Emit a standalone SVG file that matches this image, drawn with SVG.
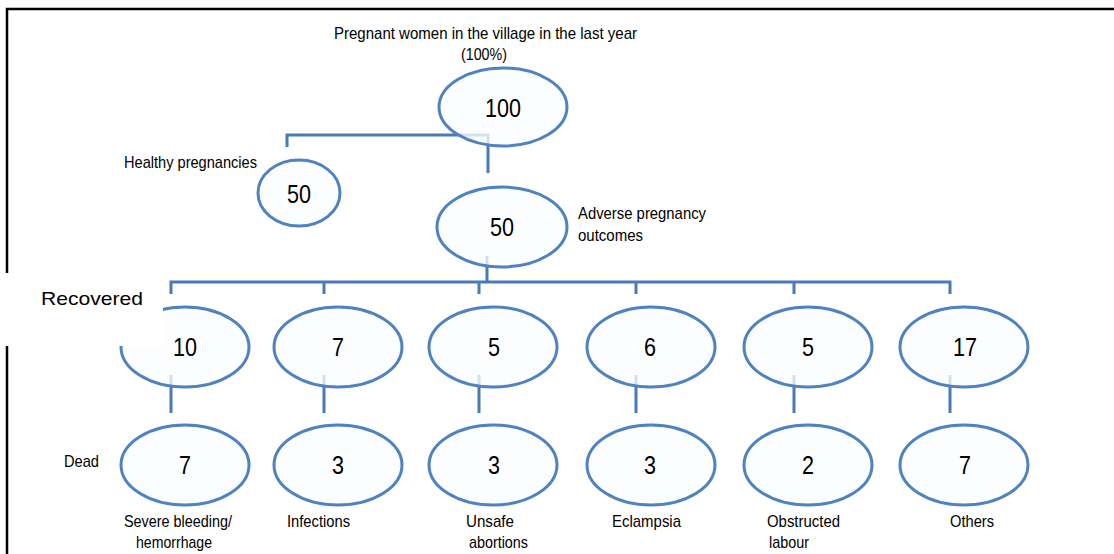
<svg xmlns="http://www.w3.org/2000/svg" width="1114" height="554" viewBox="0 0 1114 554">
<style>
.frame{stroke:#000;stroke-width:2.5;fill:none}
.conn{stroke:#4a7bb7;stroke-width:3;fill:none}
.node ellipse{fill:#fbfcfe;fill-opacity:0.78;stroke:#4f82c0;stroke-width:3}
.num{font-family:"Liberation Sans Narrow","Liberation Sans",Arial,sans-serif;font-size:26px;fill:#000;text-anchor:middle}
.lbl{font-family:"Liberation Sans Narrow","Liberation Sans",Arial,sans-serif;font-size:17px;fill:#000}
.rec{font-family:"Liberation Sans",Arial,sans-serif;font-size:19px;fill:#000}
</style>
<rect x="0" y="0" width="1114" height="554" fill="#fff"/>
<path class="frame" d="M7,554 V9 H1114"/>
<g id="connectors">
<path class="conn" d="M287,147 V135 H488 V173"/>
<path class="conn" d="M487,256 V282"/>
<path class="conn" d="M171,294 V282 H950 V294"/>
<path class="conn" d="M324,282 V294 M479,282 V294 M636,282 V294 M794,282 V294"/>
<path class="conn" d="M171,375 V413 M324,375 V413 M479,375 V413 M636,375 V413 M794,375 V413 M950,375 V413"/>
</g>
<g id="title">
<text class="lbl" x="334" y="39" textLength="303" lengthAdjust="spacingAndGlyphs">Pregnant women in the village in the last year</text>
<text class="lbl" x="461" y="60" textLength="46" lengthAdjust="spacingAndGlyphs">(100%)</text>
</g>
<g id="n100" class="node"><ellipse cx="503" cy="107" rx="64" ry="39"/><text class="num" x="503" y="117" textLength="36" lengthAdjust="spacingAndGlyphs">100</text></g>
<g id="healthy" class="node"><ellipse cx="299" cy="193" rx="41" ry="33"/><text class="num" x="299" y="203" textLength="24" lengthAdjust="spacingAndGlyphs">50</text>
<text class="lbl" x="124" y="168" textLength="133" lengthAdjust="spacingAndGlyphs">Healthy pregnancies</text></g>
<g id="adverse" class="node"><ellipse cx="502" cy="227" rx="65" ry="40"/><text class="num" x="502" y="236" textLength="24" lengthAdjust="spacingAndGlyphs">50</text>
<text class="lbl" x="578" y="219" textLength="128" lengthAdjust="spacingAndGlyphs">Adverse pregnancy</text>
<text class="lbl" x="578" y="241" textLength="65" lengthAdjust="spacingAndGlyphs">outcomes</text></g>
<g id="r1" class="node"><ellipse cx="185" cy="347" rx="64" ry="40"/><text class="num" x="185" y="356" textLength="24" lengthAdjust="spacingAndGlyphs">10</text></g>
<g id="r2" class="node"><ellipse cx="338" cy="347" rx="64" ry="40"/><text class="num" x="338" y="356" textLength="12" lengthAdjust="spacingAndGlyphs">7</text></g>
<g id="r3" class="node"><ellipse cx="493" cy="347" rx="64" ry="40"/><text class="num" x="494" y="356" textLength="12" lengthAdjust="spacingAndGlyphs">5</text></g>
<g id="r4" class="node"><ellipse cx="651" cy="347" rx="64" ry="40"/><text class="num" x="650" y="356" textLength="12" lengthAdjust="spacingAndGlyphs">6</text></g>
<g id="r5" class="node"><ellipse cx="808" cy="347" rx="64" ry="40"/><text class="num" x="808" y="356" textLength="12" lengthAdjust="spacingAndGlyphs">5</text></g>
<g id="r6" class="node"><ellipse cx="964" cy="347" rx="64" ry="40"/><text class="num" x="965" y="356" textLength="24" lengthAdjust="spacingAndGlyphs">17</text></g>
<g id="d1" class="node"><ellipse cx="185" cy="465" rx="64" ry="40"/><text class="num" x="185" y="474" textLength="12" lengthAdjust="spacingAndGlyphs">7</text>
<text class="lbl" x="124" y="527" textLength="108" lengthAdjust="spacingAndGlyphs">Severe bleeding/</text>
<text class="lbl" x="136" y="548" textLength="76" lengthAdjust="spacingAndGlyphs">hemorrhage</text></g>
<g id="d2" class="node"><ellipse cx="338" cy="465" rx="64" ry="40"/><text class="num" x="338" y="474" textLength="12" lengthAdjust="spacingAndGlyphs">3</text>
<text class="lbl" x="287" y="527" textLength="63" lengthAdjust="spacingAndGlyphs">Infections</text></g>
<g id="d3" class="node"><ellipse cx="493" cy="465" rx="64" ry="40"/><text class="num" x="494" y="474" textLength="12" lengthAdjust="spacingAndGlyphs">3</text>
<text class="lbl" x="466" y="527" textLength="48" lengthAdjust="spacingAndGlyphs">Unsafe</text>
<text class="lbl" x="469" y="548" textLength="59" lengthAdjust="spacingAndGlyphs">abortions</text></g>
<g id="d4" class="node"><ellipse cx="651" cy="465" rx="64" ry="40"/><text class="num" x="650" y="474" textLength="12" lengthAdjust="spacingAndGlyphs">3</text>
<text class="lbl" x="612" y="527" textLength="69" lengthAdjust="spacingAndGlyphs">Eclampsia</text></g>
<g id="d5" class="node"><ellipse cx="808" cy="465" rx="64" ry="40"/><text class="num" x="808" y="474" textLength="12" lengthAdjust="spacingAndGlyphs">2</text>
<text class="lbl" x="767" y="527" textLength="73" lengthAdjust="spacingAndGlyphs">Obstructed</text>
<text class="lbl" x="769" y="548" textLength="40" lengthAdjust="spacingAndGlyphs">labour</text></g>
<g id="d6" class="node"><ellipse cx="964" cy="465" rx="64" ry="40"/><text class="num" x="965" y="474" textLength="12" lengthAdjust="spacingAndGlyphs">7</text>
<text class="lbl" x="950" y="527" textLength="44" lengthAdjust="spacingAndGlyphs">Others</text></g>
<g id="dead"><text class="lbl" x="64" y="467" textLength="35" lengthAdjust="spacingAndGlyphs">Dead</text></g>
<g id="recovered"><rect x="0" y="273" width="163" height="73" fill="#fff"/>
<text class="rec" x="41" y="305" textLength="102" lengthAdjust="spacingAndGlyphs">Recovered</text></g>
</svg>
